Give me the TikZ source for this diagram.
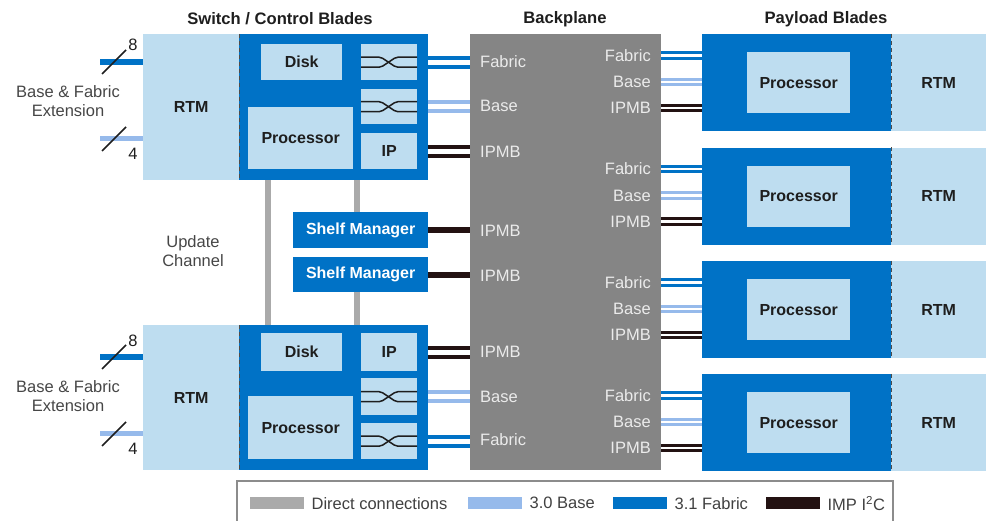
\documentclass[tikz,border=0pt]{standalone}
\usepackage{fontspec}
\setmainfont{Liberation Sans}
\usetikzlibrary{positioning}
\definecolor{bladeblue}{RGB}{0,114,198}
\definecolor{rtmblue}{RGB}{190,221,240}
\definecolor{baseblue}{RGB}{150,186,235}
\definecolor{bpgray}{RGB}{133,133,133}
\definecolor{directgray}{RGB}{170,170,170}
\definecolor{ipmbblack}{RGB}{35,18,18}
\definecolor{inktext}{RGB}{30,30,30}
\definecolor{softtext}{RGB}{70,70,70}
\tikzset{
  % kotak dasar: diletakkan dari pojok kiri atas
  box/.style={rectangle, inner sep=0pt, anchor=north west,
              font=\fontsize{16}{19}\selectfont\bfseries, text=inktext},
  sz/.style 2 args={minimum width=#1pt, minimum height=#2pt},
  rtm/.style={box, fill=rtmblue},
  blade/.style={box, fill=bladeblue},
  part/.style={box, fill=rtmblue},
  shelf/.style={box, fill=bladeblue, text=white},
  bladeedge/.style={draw=black!70, line width=1pt, dash pattern=on 4pt off 3pt},
  heading/.style={font=\fontsize{16.6}{19}\selectfont\bfseries, text=inktext, inner sep=0pt},
  plain/.style={font=\fontsize{16.5}{18.5}\selectfont, text=softtext, inner sep=0pt, align=center},
  bplabel/.style={font=\fontsize{16.5}{19}\selectfont, text=white!92!black, inner sep=0pt},
  % sambungan: sepasang garis sejajar
  fablink/.style={draw=bladeblue, line width=4pt, double=white, double distance=5pt},
  baselink/.style={fablink, draw=baseblue},
  ipmblink/.style={fablink, draw=ipmbblack},
  pairthin/.style={line width=3.2pt, double distance=2.2pt},
  ipmbsolid/.style={draw=ipmbblack, line width=6pt},
  direct/.style={draw=directgray, line width=6pt},
  fabext/.style={draw=bladeblue, line width=6pt},
  baseext/.style={draw=baseblue, line width=5pt},
  slash/.style={draw=inktext, line width=1.6pt},
  xline/.style={draw=inktext, line width=1.5pt, rounded corners=2pt},
  swatch/.style={rectangle, inner sep=0pt, anchor=north west, minimum width=54pt, minimum height=12pt},
  legtext/.style={font=\fontsize{16.5}{19}\selectfont, text=inktext!85, inner sep=0pt},
}
% simbol switch (dua jalur bersilang) di dalam kotak
\newcommand{\swcross}[1]{%
  \draw[xline] ([yshift=5pt]#1.west) -- ++(20,0) -- ++(15,10) -- ++(21,0);
  \draw[xline] ([yshift=-5pt]#1.west) -- ++(20,0) -- ++(15,-10) -- ++(21,0);}

\begin{document}
\begin{tikzpicture}[x=1pt, y=-1pt]
\useasboundingbox (0,0) rectangle (986,521);

% =================== JUDUL ===================
\node[heading] (tSwitch) at (280,19) {Switch / Control Blades};
\node[heading] (tBack) at (565,19) {Backplane};
\node[heading] (tPay) at (826,19) {Payload Blades};

% =================== BACKPLANE ===================
\node[box, fill=bpgray, sz={191}{436}] (bp) at (470,34) {};

% =================== SWITCH / CONTROL BLADE (ATAS) ===================
\node[rtm, sz={96}{146}] (rtmA) at (143,34) {RTM};
\node[blade, sz={189}{146}] (swA) at (239,34) {};
\node[part, sz={81}{36}] (diskA) at (261,44) {Disk};
\node[part, sz={105}{62}] (procA) at (248,107) {Processor};
\node[part, sz={56}{36}] (xA1) at (361,44) {};
\node[part, sz={56}{35}] (xA2) at (361,89) {};
\node[part, sz={56}{36}] (ipA) at (361,133) {IP};
\draw[bladeedge] (swA.north west) -- (swA.south west);
\swcross{xA1} \swcross{xA2}

\draw[fablink] (xA1.east -| swA.east) -- (xA1.east -| bp.west);
\draw[baselink] (xA2.east -| swA.east) -- (xA2.east -| bp.west);
\draw[ipmblink] (ipA.east -| swA.east) -- (ipA.east -| bp.west);
\node[bplabel, anchor=west] (bpFabA) at (480,62) {Fabric};
\node[bplabel, anchor=west] (bpBasA) at (480,106) {Base};
\node[bplabel, anchor=west] (bpIpA) at (480,152) {IPMB};

% ekstensi base & fabric
\coordinate (extA1) at (100,62);
\coordinate (extA2) at (100,139);
\draw[fabext] (extA1) -- (extA1 -| rtmA.west);
\draw[baseext] (extA2) -- (extA2 -| rtmA.west);
\draw[slash] ([shift={(2pt,-12pt)}]extA1) -- ++(24,-24);
\draw[slash] ([shift={(2pt,-12pt)}]extA2) -- ++(24,-24);
\node[plain, text=inktext] (nA8) at (133,45) {8};
\node[plain, text=inktext] (nA4) at (133,154) {4};
\node[plain] (extTxtA) at (68,101) {Base \& Fabric\\Extension};

% =================== SHELF MANAGER ===================
\node[shelf, sz={135}{36}] (smA) at (293,212) {Shelf Manager};
\node[shelf, sz={135}{35}] (smB) at (293,257) {Shelf Manager};
\draw[ipmbsolid] (smA.east) -- (smA.east -| bp.west);
\draw[ipmbsolid] (smB.east) -- (smB.east -| bp.west);
\node[bplabel, anchor=west] (bpIpS1) at (480,231) {IPMB};
\node[bplabel, anchor=west] (bpIpS2) at (480,276) {IPMB};

% =================== SWITCH / CONTROL BLADE (BAWAH) ===================
\node[rtm, sz={96}{145}] (rtmB) at (143,325) {RTM};
\node[blade, sz={189}{145}] (swB) at (239,325) {};
\node[part, sz={81}{38}] (diskB) at (261,333) {Disk};
\node[part, sz={56}{38}] (ipB) at (361,333) {IP};
\node[part, sz={105}{63}] (procB) at (248,396) {Processor};
\node[part, sz={56}{37}] (xB1) at (361,378) {};
\node[part, sz={56}{36}] (xB2) at (361,423) {};
\draw[bladeedge] (swB.north west) -- (swB.south west);
\swcross{xB1} \swcross{xB2}

\draw[ipmblink] (ipB.east -| swB.east) -- (ipB.east -| bp.west);
\draw[baselink] (xB1.east -| swB.east) -- (xB1.east -| bp.west);
\draw[fablink] (xB2.east -| swB.east) -- (xB2.east -| bp.west);
\node[bplabel, anchor=west] (bpIpB) at (480,352) {IPMB};
\node[bplabel, anchor=west] (bpBasB) at (480,397) {Base};
\node[bplabel, anchor=west] (bpFabB) at (480,440) {Fabric};

\coordinate (extB1) at (100,357);
\coordinate (extB2) at (100,434);
\draw[fabext] (extB1) -- (extB1 -| rtmB.west);
\draw[baseext] (extB2) -- (extB2 -| rtmB.west);
\draw[slash] ([shift={(2pt,-12pt)}]extB1) -- ++(24,-24);
\draw[slash] ([shift={(2pt,-12pt)}]extB2) -- ++(24,-24);
\node[plain, text=inktext] (nB8) at (133,341) {8};
\node[plain, text=inktext] (nB4) at (133,449) {4};
\node[plain] (extTxtB) at (68,396) {Base \& Fabric\\Extension};

% =================== UPDATE CHANNEL (direct) ===================
\coordinate (updL) at (268,250);
\coordinate (updR) at (357,250);
\draw[direct] (updL |- swA.south) -- (updL |- swB.north);
\draw[direct] (updR |- swA.south) -- (updR |- smA.north);
\draw[direct] (updR |- smB.south) -- (updR |- swB.north);
\node[plain] (updTxt) at (193,251) {Update\\Channel};

% =================== PAYLOAD BLADES ===================
\foreach \i/\t in {1/34,2/147.5,3/261,4/374}{
  \node[blade, sz={189}{97}] (pl\i) at (702,\t) {};
  \node[rtm, sz={95}{97}] (plr\i) at (891,\t) {RTM};
  \node[part, sz={103}{61}] (plp\i) at (747,{\t+18}) {Processor};
  \draw[bladeedge] (plr\i.north west) -- (plr\i.south west);
  \node[bplabel, anchor=east] (bpF\i) at (651,{\t+21.5}) {Fabric};
  \node[bplabel, anchor=east] (bpB\i) at (651,{\t+48}) {Base};
  \node[bplabel, anchor=east] (bpI\i) at (651,{\t+74}) {IPMB};
  \draw[fablink, pairthin] (bpF\i -| bp.east) -- (bpF\i -| pl\i.west);
  \draw[baselink, pairthin] (bpB\i -| bp.east) -- (bpB\i -| pl\i.west);
  \draw[ipmblink, pairthin] (bpI\i -| bp.east) -- (bpI\i -| pl\i.west);
}

% =================== LEGENDA ===================
\draw[draw=black!45, line width=1.3pt] (237,521) |- (893,481) -- (893,521);
\node[swatch, fill=directgray] (lgDirect) at (250,497) {};
\node[legtext, right=7pt of lgDirect] (lgDirectT) {Direct connections};
\node[swatch, fill=baseblue] (lgBase) at (468,497) {};
\node[legtext, right=7pt of lgBase] (lgBaseT) {3.0 Base};
\node[swatch, fill=bladeblue] (lgFab) at (613,497) {};
\node[legtext, right=7pt of lgFab] (lgFabT) {3.1 Fabric};
\node[swatch, fill=ipmbblack] (lgIpmb) at (766,497) {};
\node[legtext, right=7pt of lgIpmb] (lgIpmbT) {IMP I\textsuperscript{2}C};

\end{tikzpicture}
\end{document}
